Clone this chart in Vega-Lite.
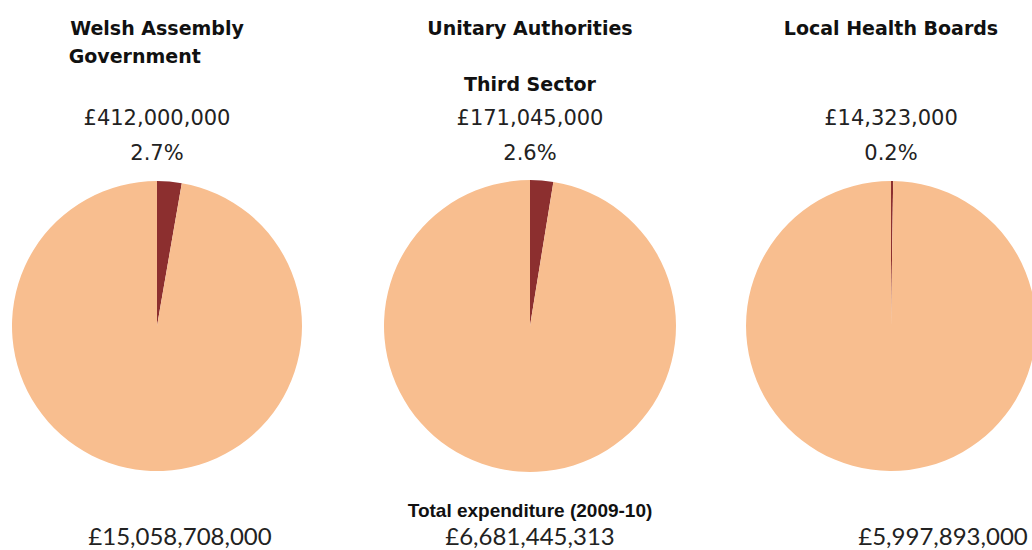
{
  "$schema": "https://vega.github.io/schema/vega-lite/v6.json",
  "padding": {"top": 20, "left": 0, "right": 0, "bottom": 0},
  "spacing": 20,
  "config": {
    "view": {"stroke": null},
    "title": {
      "anchor": "middle",
      "font": "DejaVu Sans",
      "fontSize": 19,
      "fontWeight": "bold",
      "color": "#111111",
      "lineHeight": 28,
      "subtitleFont": "DejaVu Sans",
      "subtitleFontSize": 21,
      "subtitleColor": "#222222",
      "subtitleLineHeight": 35,
      "subtitlePadding": 13,
      "offset": 2
    }
  },
  "hconcat": [
    {
      "width": 314,
      "height": 320,
      "title": {"text": ["Welsh Assembly", "Government\u2800\u2800\u2800", "\u2800"], "subtitle": ["£412,000,000", "2.7%"]},
      "layer": [
        {
          "data": {"values": [
            {"sector": "Third Sector", "value": 412000000},
            {"sector": "Other", "value": 14646708000}
          ]},
          "mark": {"type": "arc", "outerRadius": 145},
          "encoding": {
            "theta": {"field": "value", "type": "quantitative", "stack": true},
            "color": {"field": "sector", "type": "nominal", "scale": {"domain": ["Third Sector", "Other"], "range": ["#8C2F2F", "#F8BE8F"]}, "legend": null},
            "order": {"field": "sector", "sort": "descending"}
          }
        },
        {
          "data": {"values": [{"label": "£15,058,708,000"}]},
          "mark": {"type": "text", "y": "height", "dx": 23, "dy": 52, "font": "Lato", "fontSize": 24, "color": "#222222", "baseline": "middle"},
          "encoding": {
            "x": {"datum": 0, "type": "quantitative", "scale": {"domain": [-1, 1]}, "axis": null},
            "text": {"field": "label", "type": "nominal"}
          }
        }
      ]
    },
    {
      "width": 392,
      "height": 320,
      "title": {"text": ["Unitary Authorities", "\u2800", "Third Sector"], "subtitle": ["£171,045,000", "2.6%"]},
      "layer": [
        {
          "data": {"values": [
            {"sector": "Third Sector", "value": 171045000},
            {"sector": "Other", "value": 6510400313}
          ]},
          "mark": {"type": "arc", "outerRadius": 146},
          "encoding": {
            "theta": {"field": "value", "type": "quantitative", "stack": true},
            "color": {"field": "sector", "type": "nominal", "scale": {"domain": ["Third Sector", "Other"], "range": ["#8C2F2F", "#F8BE8F"]}, "legend": null},
            "order": {"field": "sector", "sort": "descending"}
          }
        },
        {
          "data": {"values": [{"label": "Total expenditure (2009-10)"}]},
          "mark": {"type": "text", "y": "height", "dy": 25, "font": "Liberation Sans", "fontWeight": "bold", "fontSize": 19, "color": "#111111", "baseline": "middle"},
          "encoding": {
            "x": {"datum": 0, "type": "quantitative", "scale": {"domain": [-1, 1]}, "axis": null},
            "text": {"field": "label", "type": "nominal"}
          }
        },
        {
          "data": {"values": [{"label": "£6,681,445,313"}]},
          "mark": {"type": "text", "y": "height", "dy": 52, "font": "Lato", "fontSize": 24, "color": "#222222", "baseline": "middle"},
          "encoding": {
            "x": {"datum": 0, "type": "quantitative", "scale": {"domain": [-1, 1]}, "axis": null},
            "text": {"field": "label", "type": "nominal"}
          }
        }
      ]
    },
    {
      "width": 288,
      "height": 320,
      "title": {"text": ["Local Health Boards", "\u2800", "\u2800"], "subtitle": ["£14,323,000", "0.2%"]},
      "layer": [
        {
          "data": {"values": [
            {"sector": "Third Sector", "value": 14323000},
            {"sector": "Other", "value": 5983570000}
          ]},
          "mark": {"type": "arc", "outerRadius": 145},
          "encoding": {
            "theta": {"field": "value", "type": "quantitative", "stack": true},
            "color": {"field": "sector", "type": "nominal", "scale": {"domain": ["Third Sector", "Other"], "range": ["#8C2F2F", "#F8BE8F"]}, "legend": null},
            "order": {"field": "sector", "sort": "descending"}
          }
        },
        {
          "data": {"values": [{"label": "£5,997,893,000"}]},
          "mark": {"type": "text", "y": "height", "dx": 52, "dy": 52, "font": "Lato", "fontSize": 24, "color": "#222222", "baseline": "middle"},
          "encoding": {
            "x": {"datum": 0, "type": "quantitative", "scale": {"domain": [-1, 1]}, "axis": null},
            "text": {"field": "label", "type": "nominal"}
          }
        }
      ]
    }
  ]
}
